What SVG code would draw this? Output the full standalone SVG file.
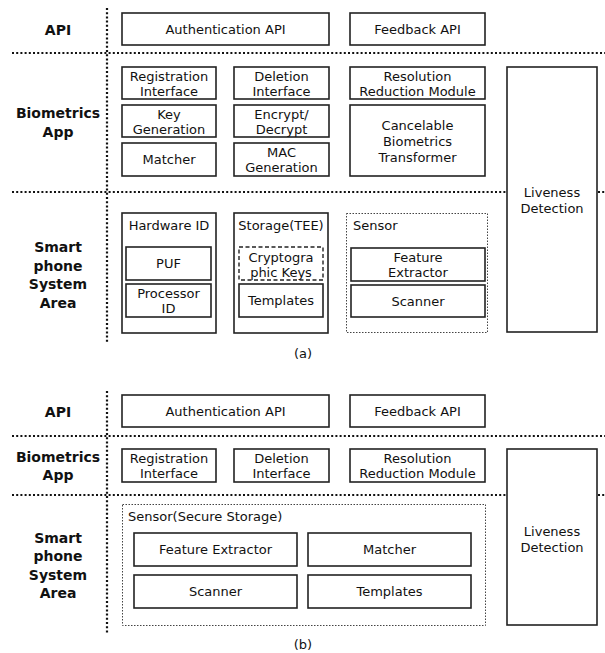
<svg xmlns="http://www.w3.org/2000/svg" width="605" height="653" viewBox="0 0 605 653">
  <style>
    .bg { fill: #ffffff; }
    .box { fill: #ffffff; stroke: #222; stroke-width: 1.6; }
    .dotbox { fill: none; stroke: #444; stroke-width: 1; stroke-dasharray: 1.5 1.5; }
    .dashbox { fill: #ffffff; stroke: #222; stroke-width: 1.4; stroke-dasharray: 4 2.5; }
    .sep { stroke: #111; stroke-width: 2.2; stroke-dasharray: 2 2.2; fill: none; }
    .t { font-family: "DejaVu Sans", "Noto Sans", sans-serif; font-size: 13px; fill: #111; text-anchor: middle; }
    .tl { font-family: "DejaVu Sans", "Noto Sans", sans-serif; font-size: 13px; fill: #111; text-anchor: start; }
    .lab { font-family: "DejaVu Sans", "Noto Sans", sans-serif; font-size: 14px; font-weight: bold; fill: #111; text-anchor: middle; }
  </style>
  <rect class="bg" x="0" y="0" width="605" height="653"/>

  <!-- layer separators -->
  <g id="separators">
    <line class="sep" x1="107" y1="8" x2="107" y2="342"/>
    <line class="sep" x1="12" y1="53" x2="605" y2="53"/>
    <line class="sep" x1="12" y1="192" x2="507" y2="192"/>
    <line class="sep" x1="598" y1="192" x2="605" y2="192"/>

    <line class="sep" x1="107" y1="391" x2="107" y2="633"/>
    <line class="sep" x1="12" y1="436" x2="605" y2="436"/>
    <line class="sep" x1="12" y1="495" x2="507" y2="495"/>
    <line class="sep" x1="598" y1="495" x2="605" y2="495"/>
  </g>

  <!-- ===== (a) ===== -->
  <g id="a-labels">
    <text class="lab" x="58" y="35">API</text>
    <text class="lab" x="58" y="118">Biometrics</text>
    <text class="lab" x="58" y="137">App</text>
    <text class="lab" x="58" y="252">Smart</text>
    <text class="lab" x="58" y="271">phone</text>
    <text class="lab" x="58" y="289">System</text>
    <text class="lab" x="58" y="308">Area</text>
  </g>

  <g id="a-auth-api">
    <rect class="box" x="122" y="13" width="207" height="32"/>
    <text class="t" x="225.5" y="34">Authentication API</text>
  </g>
  <g id="a-feedback-api">
    <rect class="box" x="350" y="13" width="135" height="32"/>
    <text class="t" x="417.5" y="34">Feedback API</text>
  </g>

  <g id="a-registration">
    <rect class="box" x="122" y="67" width="94" height="32"/>
    <text class="t" x="169" y="80.5">Registration</text>
    <text class="t" x="169" y="96">Interface</text>
  </g>
  <g id="a-keygen">
    <rect class="box" x="122" y="105" width="94" height="32"/>
    <text class="t" x="169" y="118.5">Key</text>
    <text class="t" x="169" y="134">Generation</text>
  </g>
  <g id="a-matcher">
    <rect class="box" x="122" y="143" width="94" height="33"/>
    <text class="t" x="169" y="164">Matcher</text>
  </g>

  <g id="a-deletion">
    <rect class="box" x="234" y="67" width="95" height="32"/>
    <text class="t" x="281.5" y="80.5">Deletion</text>
    <text class="t" x="281.5" y="96">Interface</text>
  </g>
  <g id="a-encrypt">
    <rect class="box" x="234" y="105" width="95" height="32"/>
    <text class="t" x="281.5" y="118.5">Encrypt/</text>
    <text class="t" x="281.5" y="134">Decrypt</text>
  </g>
  <g id="a-mac">
    <rect class="box" x="234" y="143" width="95" height="33"/>
    <text class="t" x="281.5" y="156.5">MAC</text>
    <text class="t" x="281.5" y="172">Generation</text>
  </g>

  <g id="a-resolution">
    <rect class="box" x="350" y="67" width="135" height="32"/>
    <text class="t" x="417.5" y="80.5">Resolution</text>
    <text class="t" x="417.5" y="96">Reduction Module</text>
  </g>
  <g id="a-cancelable">
    <rect class="box" x="350" y="105" width="135" height="71"/>
    <text class="t" x="417.5" y="130">Cancelable</text>
    <text class="t" x="417.5" y="146">Biometrics</text>
    <text class="t" x="417.5" y="162">Transformer</text>
  </g>

  <g id="a-liveness">
    <rect class="box" x="507" y="67" width="90" height="265"/>
    <text class="t" x="552" y="197">Liveness</text>
    <text class="t" x="552" y="213">Detection</text>
  </g>

  <g id="a-hardware-id">
    <rect class="box" x="122" y="213" width="94" height="120"/>
    <text class="t" x="169" y="229.5">Hardware  ID</text>
  </g>
  <g id="a-puf">
    <rect class="box" x="126" y="247" width="85" height="33"/>
    <text class="t" x="168.5" y="268">PUF</text>
  </g>
  <g id="a-processor-id">
    <rect class="box" x="126" y="284" width="85" height="33"/>
    <text class="t" x="168.5" y="297.5">Processor</text>
    <text class="t" x="168.5" y="313">ID</text>
  </g>

  <g id="a-storage">
    <rect class="box" x="234" y="213" width="94" height="120"/>
    <text class="t" x="281" y="229.5">Storage(TEE)</text>
  </g>
  <g id="a-crypto-keys">
    <rect class="dashbox" x="239" y="247" width="84" height="33"/>
    <text class="t" x="281" y="261.5">Cryptogra</text>
    <text class="t" x="281" y="277">phic Keys</text>
  </g>
  <g id="a-templates">
    <rect class="box" x="239" y="284" width="84" height="33"/>
    <text class="t" x="281" y="305">Templates</text>
  </g>

  <g id="a-sensor">
    <rect class="dotbox" x="346.5" y="213.5" width="141" height="119"/>
    <text class="tl" x="353" y="229.5">Sensor</text>
  </g>
  <g id="a-feature-extractor">
    <rect class="box" x="351" y="248" width="134" height="33"/>
    <text class="t" x="418" y="261.5">Feature</text>
    <text class="t" x="418" y="277">Extractor</text>
  </g>
  <g id="a-scanner">
    <rect class="box" x="351" y="285" width="134" height="32"/>
    <text class="t" x="418" y="305.5">Scanner</text>
  </g>

  <text class="t" x="303" y="358">(a)</text>

  <!-- ===== (b) ===== -->
  <g id="b-labels">
    <text class="lab" x="58" y="417">API</text>
    <text class="lab" x="58" y="462">Biometrics</text>
    <text class="lab" x="58" y="480">App</text>
    <text class="lab" x="58" y="543">Smart</text>
    <text class="lab" x="58" y="561">phone</text>
    <text class="lab" x="58" y="580">System</text>
    <text class="lab" x="58" y="598">Area</text>
  </g>

  <g id="b-auth-api">
    <rect class="box" x="122" y="395" width="207" height="32"/>
    <text class="t" x="225.5" y="416">Authentication API</text>
  </g>
  <g id="b-feedback-api">
    <rect class="box" x="350" y="395" width="135" height="32"/>
    <text class="t" x="417.5" y="416">Feedback API</text>
  </g>

  <g id="b-registration">
    <rect class="box" x="122" y="449" width="94" height="33"/>
    <text class="t" x="169" y="462.5">Registration</text>
    <text class="t" x="169" y="478">Interface</text>
  </g>
  <g id="b-deletion">
    <rect class="box" x="234" y="449" width="95" height="33"/>
    <text class="t" x="281.5" y="462.5">Deletion</text>
    <text class="t" x="281.5" y="478">Interface</text>
  </g>
  <g id="b-resolution">
    <rect class="box" x="350" y="449" width="135" height="33"/>
    <text class="t" x="417.5" y="462.5">Resolution</text>
    <text class="t" x="417.5" y="478">Reduction Module</text>
  </g>

  <g id="b-liveness">
    <rect class="box" x="507" y="449" width="90" height="176"/>
    <text class="t" x="552" y="536">Liveness</text>
    <text class="t" x="552" y="552">Detection</text>
  </g>

  <g id="b-sensor">
    <rect class="dotbox" x="122.5" y="504.5" width="363" height="121"/>
    <text class="tl" x="128" y="521">Sensor(Secure Storage)</text>
  </g>
  <g id="b-feature-extractor">
    <rect class="box" x="134" y="533" width="163" height="33"/>
    <text class="t" x="215.5" y="554">Feature Extractor</text>
  </g>
  <g id="b-matcher">
    <rect class="box" x="308" y="533" width="163" height="33"/>
    <text class="t" x="389.5" y="554">Matcher</text>
  </g>
  <g id="b-scanner">
    <rect class="box" x="134" y="575" width="163" height="33"/>
    <text class="t" x="215.5" y="596">Scanner</text>
  </g>
  <g id="b-templates">
    <rect class="box" x="308" y="575" width="163" height="33"/>
    <text class="t" x="389.5" y="596">Templates</text>
  </g>

  <text class="t" x="303" y="649">(b)</text>
</svg>
